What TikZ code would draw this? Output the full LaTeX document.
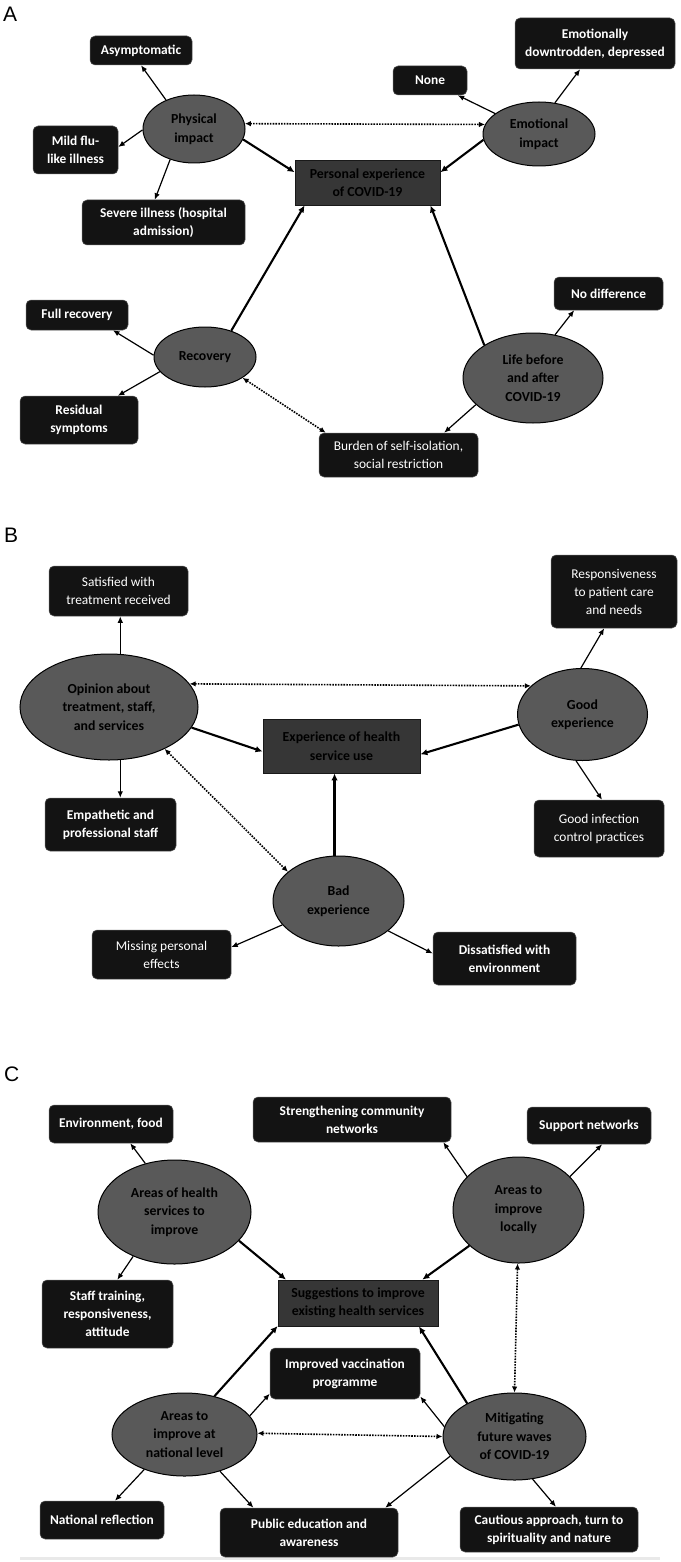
\documentclass[tikz,border=0pt]{standalone}
\usepackage{fontspec}
\setmainfont{Carlito}
\newfontfamily\panelfont{Liberation Sans}
\usetikzlibrary{shapes.geometric,arrows.meta}
\definecolor{leaffill}{HTML}{131313}
\definecolor{leafline}{HTML}{5A5A5A}
\definecolor{ellfill}{HTML}{595959}
\definecolor{corefill}{HTML}{363636}
\definecolor{bargray}{HTML}{E9E9E9}
\begin{document}
\begin{tikzpicture}[x=1pt,y=-1pt,
 leaf/.style={rectangle, rounded corners=5pt, fill=leaffill, draw=leafline, line width=0.5pt, text=white, align=center, inner sep=0pt, font=\fontsize{13.4}{18}\selectfont},
 leafb/.style={leaf, font=\fontsize{13.4}{18}\selectfont\bfseries},
 topic/.style={ellipse, fill=ellfill, draw=black, line width=1pt, align=center, inner sep=0pt, font=\fontsize{13.8}{18.5}\selectfont\bfseries, text=black},
 core/.style={rectangle, fill=corefill, draw=black!90, line width=0.8pt, align=center, inner sep=0pt, font=\fontsize{13.8}{18.5}\selectfont\bfseries, text=black},
 arrthin/.style={-{Latex[length=6.5pt,width=5.5pt]}, line width=1.2pt},
 arrthick/.style={-{Latex[length=7pt,width=6.5pt]}, line width=2.1pt},
 arrdot/.style={{Latex[length=6pt,width=5.5pt]}-{Latex[length=6pt,width=5.5pt]}, line width=1.6pt, dash pattern=on 1.6pt off 1.2pt},
 plabel/.style={anchor=base west, inner sep=0pt, font=\panelfont\fontsize{21}{21}\selectfont}
]
\useasboundingbox (0,0) rectangle (680,1562);
\fill[white] (0,0) rectangle (680,1562);
\fill[bargray] (20,1556.5) rectangle (660,1560);

% ---------------- Panel A ----------------
\node[plabel] (la) at (3,22) {A};
\node[leafb, minimum width=102pt, minimum height=29pt] (asym) at (141,50.5) {Asymptomatic};
\node[leafb, minimum width=85pt, minimum height=48pt] (mild) at (75.5,150) {Mild flu-\\like illness};
\node[leafb, minimum width=163pt, minimum height=45pt] (severe) at (163.5,222.5) {Severe illness (hospital\\admission)};
\node[topic, minimum width=102pt, minimum height=68pt] (phys) at (194,129) {Physical\\impact};
\node[core, minimum width=145pt, minimum height=45pt] (pers) at (367.5,182.5) {Personal experience\\of COVID-19};
\node[leafb, minimum width=74pt, minimum height=29pt] (none) at (430,80.5) {None};
\node[leafb, minimum width=160pt, minimum height=51pt] (emodown) at (595,43.5) {Emotionally\\downtrodden, depressed};
\node[topic, minimum width=112pt, minimum height=64pt] (emo) at (539,134) {Emotional\\impact};
\node[leafb, minimum width=102pt, minimum height=30pt] (fullrec) at (77,315) {Full recovery};
\node[topic, minimum width=102pt, minimum height=60pt] (recov) at (205,357) {Recovery};
\node[leafb, minimum width=118pt, minimum height=48pt] (resid) at (79,420) {Residual\\symptoms};
\node[leaf, minimum width=159pt, minimum height=44pt] (burden) at (398.5,455) {Burden of self-isolation,\\social restriction};
\node[topic, minimum width=140pt, minimum height=90pt] (life) at (533,378) {Life before\\and after\\COVID-19};
\node[leafb, minimum width=109pt, minimum height=33pt] (nodiff) at (608.5,293.5) {No difference};

\draw[arrthin] (phys.134) -- (asym.south);
\draw[arrthin] (phys.181) -- (mild.4);
\draw[arrthin] (phys.232) -- (severe.111);
\draw[arrthick] (phys.348) -- (pers.172);
\draw[arrdot] (phys.6) -- (emo.170);
\draw[arrthin] (emo.155) -- (none.332);
\draw[arrthin] (emo.63) -- (emodown.240);
\draw[arrthick] (emo.186) -- (pers.8);
\draw[arrthick] (recov.45) -- (pers.200);
\draw[arrthin] (recov.178) -- (fullrec.337);
\draw[arrthin] (recov.198) -- (resid.32);
\draw[arrdot] (recov.331) -- (burden.163);
\draw[arrthick] (life.146) -- (pers.340);
\draw[arrthin] (life.205) -- (burden.26);
\draw[arrthin] (life.63) -- (nodiff.206);

% ---------------- Panel B ----------------
\node[plabel] (lb) at (4,542) {B};
\node[leaf, minimum width=139pt, minimum height=50pt] (satis) at (118.5,591) {Satisfied with\\treatment received};
\node[topic, minimum width=178pt, minimum height=106pt] (opin) at (109,707) {Opinion about\\treatment, staff,\\and services};
\node[leafb, minimum width=131pt, minimum height=53pt] (empat) at (110.5,824.5) {Empathetic and\\professional staff};
\node[core, minimum width=157pt, minimum height=54pt] (exper) at (341.5,746) {Experience of health\\service use};
\node[topic, minimum width=130pt, minimum height=92pt] (good) at (582.5,714.5) {Good\\experience};
\node[leaf, minimum width=126pt, minimum height=73pt] (resp) at (614,591.5) {Responsiveness\\to patient care\\and needs};
\node[leaf, minimum width=130pt, minimum height=57pt] (goodinf) at (599,828.5) {Good infection\\control practices};
\node[topic, minimum width=131pt, minimum height=90pt] (bad) at (338.5,901) {Bad\\experience};
\node[leaf, minimum width=139pt, minimum height=49pt] (missing) at (161.5,954.5) {Missing personal\\effects};
\node[leafb, minimum width=143pt, minimum height=53pt] (dissat) at (504.5,958.5) {Dissatisfied with\\environment};

\draw[arrthin] (opin.78) -- (opin.78 |- satis.south);
\draw[arrthin] (opin.282) -- (opin.282 |- empat.north);
\draw[arrthick] (opin.346) -- (exper.184);
\draw[arrthick] (good.189) -- (exper.354);
\draw[arrthin] (good.92) -- (resp.255);
\draw[arrthin] (good.262) -- (goodinf.84);
\draw[arrdot] (opin.16) -- (good.151);
\draw[arrdot] (opin.323) -- (bad.150);
\draw[arrthick] (bad.95) -- (bad.95 |- exper.south);
\draw[arrthin] (bad.203) -- (missing.6);
\draw[arrthin] (bad.329) -- (dissat.176);

% ---------------- Panel C ----------------
\node[plabel] (lc) at (4,1081) {C};
\node[leafb, minimum width=124pt, minimum height=38pt] (envf) at (111,1124) {Environment, food};
\node[leafb, minimum width=198pt, minimum height=45pt] (strength) at (352,1119.5) {Strengthening community\\networks};
\node[leafb, minimum width=124pt, minimum height=37pt] (support) at (589,1125.5) {Support networks};
\node[topic, minimum width=153pt, minimum height=104pt] (ahs) at (174.5,1212) {Areas of health\\services to\\improve};
\node[topic, minimum width=131pt, minimum height=106pt] (local) at (518.5,1210) {Areas to\\improve\\locally};
\node[leafb, minimum width=131pt, minimum height=68pt] (staff) at (107.5,1314) {Staff training,\\responsiveness,\\attitude};
\node[core, minimum width=160pt, minimum height=46pt] (sugg) at (358,1303) {Suggestions to improve\\existing health services};
\node[leafb, minimum width=150pt, minimum height=51pt] (vacc) at (345,1373.5) {Improved vaccination\\programme};
\node[topic, minimum width=145pt, minimum height=83pt] (natl) at (184.5,1434.5) {Areas to\\improve at\\national level};
\node[topic, minimum width=143pt, minimum height=87pt] (mitig) at (514.5,1436.5) {Mitigating\\future waves\\of COVID-19};
\node[leafb, minimum width=124pt, minimum height=38pt] (natref) at (102,1520) {National reflection};
\node[leafb, minimum width=178pt, minimum height=49pt] (pubed) at (309,1532.5) {Public education and\\awareness};
\node[leafb, minimum width=178pt, minimum height=45pt] (caut) at (549,1529.5) {Cautious approach, turn to\\spirituality and nature};

\draw[arrthin] (ahs.121) -- (envf.315);
\draw[arrthin] (ahs.227) -- (staff.74);
\draw[arrthick] (ahs.336) -- (sugg.162);
\draw[arrthin] (local.147) -- (strength.346);
\draw[arrthin] (local.33) -- (support.305);
\draw[arrthick] (local.216) -- (sugg.20);
\draw[arrdot] (local.269) -- (mitig.90);
\draw[arrthick] (natl.52) -- (sugg.196);
\draw[arrthin] (natl.16) -- (vacc.195);
\draw[arrthick] (mitig.145) -- (sugg.339);
\draw[arrthin] (mitig.172) -- (vacc.343);
\draw[arrdot] (natl.1) -- (mitig.180);
\draw[arrthin] (natl.221) -- (natref.56);
\draw[arrthin] (natl.314) -- (pubed.156);
\draw[arrthin] (mitig.197) -- (pubed.18);
\draw[arrthin] (mitig.293) -- (caut.73);
\end{tikzpicture}
\end{document}
